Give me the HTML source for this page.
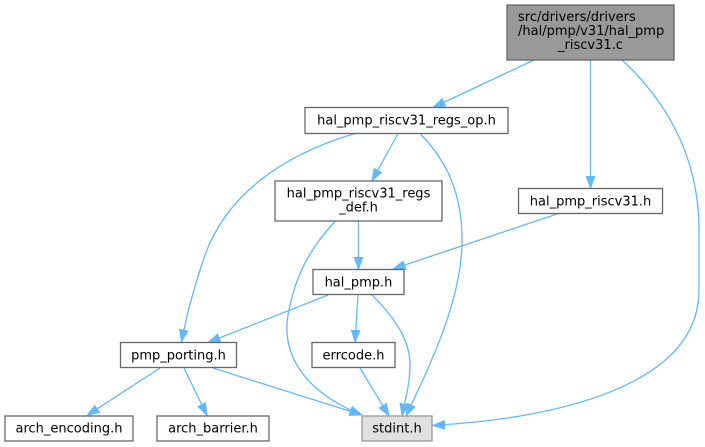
<!DOCTYPE html>
<html>
<head>
<meta charset="utf-8">
<style>
html,body{margin:0;padding:0;background:#fff;}
svg{display:block;}
text{font-family:"DejaVu Sans","Liberation Sans",sans-serif;font-size:13px;fill:#000;}
</style>
</head>
<body>
<svg width="705" height="447" viewBox="0 0 705 447" xmlns="http://www.w3.org/2000/svg">
<defs>
<marker id="a" markerUnits="userSpaceOnUse" markerWidth="13" markerHeight="10" viewBox="0 0 13 10" refX="12.5" refY="5" orient="auto">
<path d="M0,0.5 L12.5,5 L0,9.5 Z" fill="#63b8ff" stroke="#63b8ff" stroke-width="0.8"/>
</marker>
</defs>
<g fill="none" stroke="#63b8ff" stroke-width="1.3" marker-end="url(#a)">
<path d="M534,60 L433,107.5"/>
<path d="M590.5,60 L590.5,188.5"/>
<path d="M622,60 C660,95 699,150 699,230 L699,290 C699,385 560,418 432.5,425.5"/>
<path d="M355,133.5 C275,157 225,200 205,255 C193,290 186,318 181.5,342"/>
<path d="M398,133.5 L372,181"/>
<path d="M420,133.5 C448,162 462,195 462,240 C462,300 430,365 406,416"/>
<path d="M358.5,221 L358.5,269.5"/>
<path d="M335,221.5 C310,248 296,275 289,310 C280,350 300,390 362,415"/>
<path d="M557,214 L393,269"/>
<path d="M328,295 L208,342.5"/>
<path d="M358,295 L355,342.5"/>
<path d="M372,295 C395,318 410,340 410,365 C410,385 405,400 402,416"/>
<path d="M360,368 L389,416"/>
<path d="M160,368 L87,415.5"/>
<path d="M184,368 L207,415.5"/>
<path d="M213,368 L362,415"/>
</g>
<g stroke-width="1.3">
<rect x="507" y="5" width="167" height="55" fill="#999999" stroke="#666666"/>
<rect x="305" y="107.5" width="203" height="26" fill="#ffffff" stroke="#666666"/>
<rect x="275" y="181" width="167" height="40" fill="#ffffff" stroke="#666666"/>
<rect x="518.5" y="188.5" width="144" height="25" fill="#ffffff" stroke="#666666"/>
<rect x="313" y="269.5" width="91" height="25" fill="#ffffff" stroke="#666666"/>
<rect x="120.5" y="342.5" width="116" height="25" fill="#ffffff" stroke="#666666"/>
<rect x="312" y="342.5" width="83" height="25" fill="#ffffff" stroke="#666666"/>
<rect x="5" y="416" width="128" height="25" fill="#ffffff" stroke="#666666"/>
<rect x="157" y="416" width="112" height="25" fill="#ffffff" stroke="#666666"/>
<rect x="362" y="416" width="70" height="25" fill="#e0e0e0" stroke="#999999"/>
</g>
<text x="518" y="21">src/drivers/drivers</text>
<text x="518" y="35">/hal/pmp/v31/hal_pmp</text>
<text x="590.5" y="49" text-anchor="middle">_riscv31.c</text>
<text x="406.5" y="124.5" text-anchor="middle">hal_pmp_riscv31_regs_op.h</text>
<text x="358.5" y="197.5" text-anchor="middle">hal_pmp_riscv31_regs</text>
<text x="358.5" y="211.5" text-anchor="middle">_def.h</text>
<text x="590.5" y="205.5" text-anchor="middle">hal_pmp_riscv31.h</text>
<text x="358.5" y="286.5" text-anchor="middle">hal_pmp.h</text>
<text x="178.5" y="359.5" text-anchor="middle">pmp_porting.h</text>
<text x="353.5" y="359.5" text-anchor="middle">errcode.h</text>
<text x="69" y="432.5" text-anchor="middle">arch_encoding.h</text>
<text x="213" y="432.5" text-anchor="middle">arch_barrier.h</text>
<text x="397" y="432.5" text-anchor="middle">stdint.h</text>
</svg>
</body>
</html>
